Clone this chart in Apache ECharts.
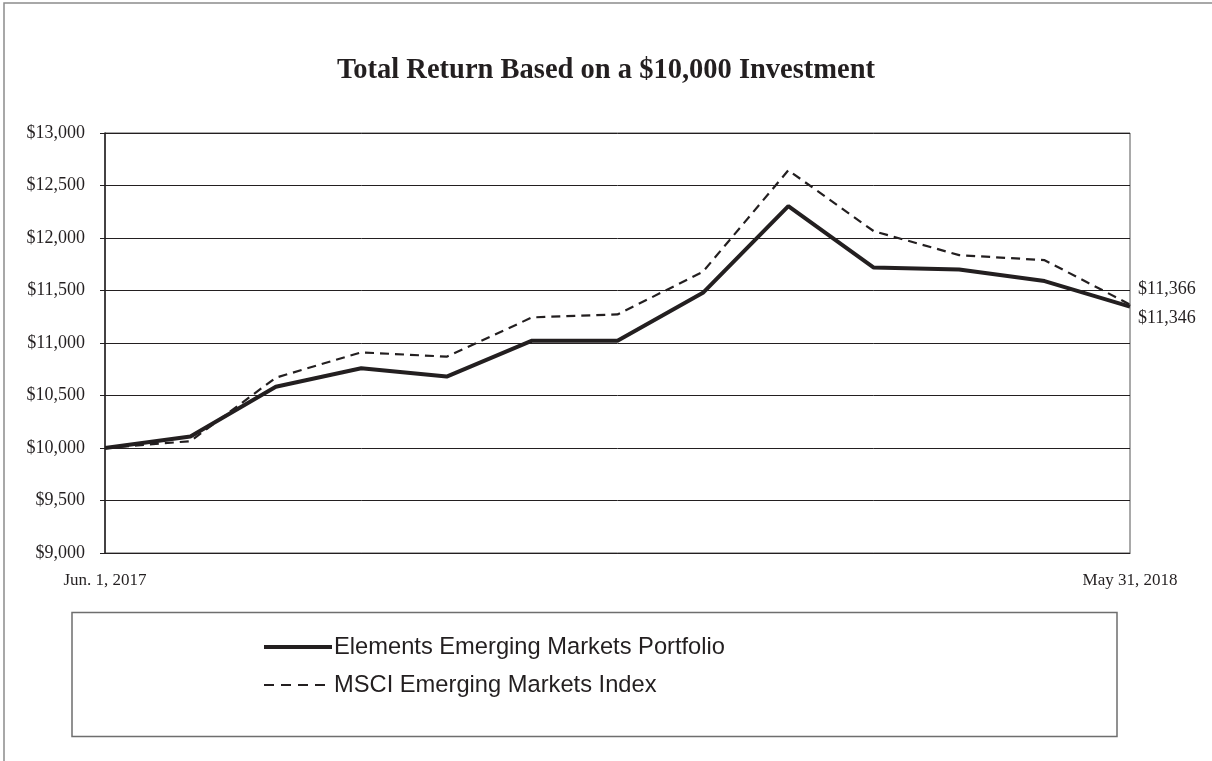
<!DOCTYPE html>
<html>
<head>
<meta charset="utf-8">
<script src="https://cdn.jsdelivr.net/npm/echarts@6/dist/echarts.min.js"></script>
<style>
  html, body { margin: 0; padding: 0; background: #fff; }
  #chart { width: 1212px; height: 761px; }
</style>
</head>
<body>
<div id="chart"></div>
<script>
var categories = [
  "Jun. 1, 2017", "Jun 2017", "Jul 2017", "Aug 2017", "Sep 2017", "Oct 2017",
  "Nov 2017", "Dec 2017", "Jan 2018", "Feb 2018", "Mar 2018", "Apr 2018", "May 31, 2018"
];
var portfolio = [10000, 10110, 10584, 10759, 10680, 11022, 11022, 11478, 12303, 11718, 11700, 11590, 11346];
var msciIndex = [10000, 10065, 10670, 10911, 10870, 11244, 11272, 11678, 12645, 12065, 11837, 11789, 11366];

var ink = "#231f20";

function money(v) {
  return "$" + Number(v).toLocaleString("en-US");
}

var chartDom = document.getElementById("chart");
var myChart = echarts.init(chartDom);

var option = {
  animation: false,
  backgroundColor: "#fff",
  title: {
    text: "Total Return Based on a $10,000 Investment",
    left: "center",
    top: 51,
    textStyle: {
      fontFamily: "Liberation Serif",
      fontWeight: "bold",
      fontSize: 28.5,
      color: ink,
    },
  },
  graphic: [
    {
      type: "rect",
      shape: { x: 4, y: 3, width: 1300, height: 900 },
      style: { fill: "none", stroke: "#8c8c8c", lineWidth: 1.5 },
      silent: true,
    },
    {
      type: "rect",
      shape: { x: 72, y: 612.5, width: 1045, height: 124 },
      style: { fill: "none", stroke: "#6e6e6e", lineWidth: 1.5 },
      silent: true,
    },
  ],
  legend: {
    orient: "vertical",
    left: 257,
    top: 630,
    itemWidth: 68,
    itemHeight: 14,
    itemGap: 14,
    itemStyle: { opacity: 0 },
    textStyle: {
      fontFamily: "Liberation Sans",
      fontSize: 23.7,
      color: ink,
      padding: [0, 0, 0, -3],
    },
    data: [
      { name: "Elements Emerging Markets Portfolio", lineStyle: { width: 4 } },
      { name: "MSCI Emerging Markets Index", lineStyle: { width: 2, type: [10, 7] } },
    ],
  },
  grid: {
    left: 105,
    right: 82,
    top: 133,
    bottom: 208,
    show: true,
    borderColor: "#555",
    borderWidth: 1,
  },
  xAxis: {
    type: "category",
    boundaryGap: false,
    data: categories,
    axisLine: { lineStyle: { color: ink, width: 1 } },
    axisTick: { show: false },
    axisLabel: {
      interval: function (index) {
        return index === 0 || index === categories.length - 1;
      },
      margin: 19,
      fontFamily: "Liberation Serif",
      fontSize: 17,
      color: ink,
    },
  },
  yAxis: {
    type: "value",
    min: 9000,
    max: 13000,
    interval: 500,
    axisLine: { show: true, lineStyle: { color: ink, width: 1.5 } },
    axisTick: { show: true, length: 5, lineStyle: { color: ink } },
    axisLabel: {
      formatter: money,
      margin: 20,
      fontFamily: "Liberation Serif",
      fontSize: 18,
      color: ink,
    },
    splitLine: { lineStyle: { color: ink, width: 1 } },
  },
  series: [
    {
      name: "MSCI Emerging Markets Index",
      type: "line",
      data: msciIndex,
      symbol: "none",
      lineStyle: { color: ink, width: 2.2, type: [9, 6] },
      itemStyle: { color: ink },
      endLabel: {
        show: true,
        formatter: function (p) { return money(p.value); },
        distance: 0,
        offset: [8, -15],
        fontFamily: "Liberation Serif",
        fontSize: 18,
        color: ink,
      },
      z: 3,
    },
    {
      name: "Elements Emerging Markets Portfolio",
      type: "line",
      data: portfolio,
      symbol: "none",
      lineStyle: { color: ink, width: 4 },
      itemStyle: { color: ink },
      endLabel: {
        show: true,
        formatter: function (p) { return money(p.value); },
        distance: 0,
        offset: [8, 12],
        fontFamily: "Liberation Serif",
        fontSize: 18,
        color: ink,
      },
      z: 2,
    },
  ],
};

myChart.setOption(option);
window.addEventListener("resize", myChart.resize);
</script>
</body>
</html>
